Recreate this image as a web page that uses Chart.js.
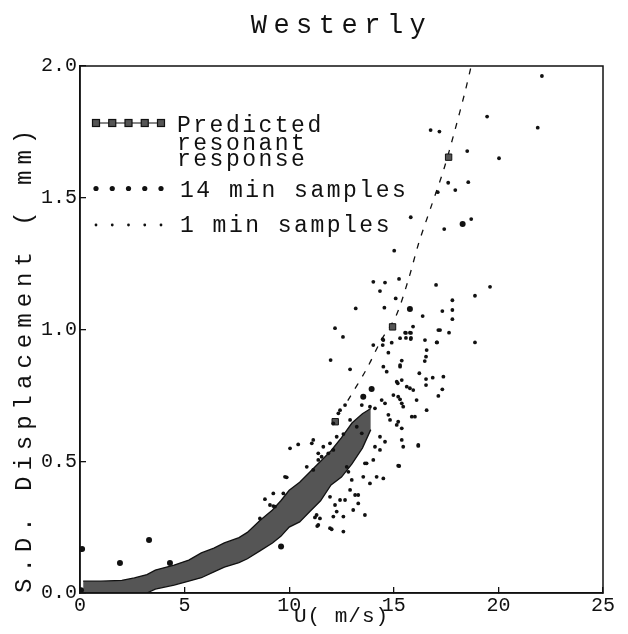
<!DOCTYPE html>
<html><head><meta charset="utf-8">
<script src="https://cdn.jsdelivr.net/npm/chart.js@4/dist/chart.umd.min.js"></script>
<style>html,body{margin:0;padding:0;background:#fff;}canvas{display:block;}</style>
</head><body>
<canvas id="c" width="628" height="634"></canvas>
<script>
// ---------- data ----------
const chartTitle = 'Westerly';
const xAxisTitle = 'U( m/s)';
const yAxisTitle = 'S.D. Displacement ( mm)';
const xTickValues = [0, 5, 10, 15, 20, 25];
const xTickLabels = ['0', '5', '10', '15', '20', '25'];
const yTickValues = [0, 0.5, 1.0, 1.5, 2.0];
const yTickLabels = ['0.0', '0.5', '1.0', '1.5', '2.0'];
const legendLabels = [['Predicted', 'resonant', 'response'], ['14 min samples'], ['1 min samples']];

// predicted resonant response: dense band of predicted squares (upper / lower edge)
const bandU     = [0.15, 1.0, 2.0, 2.6, 3.2, 3.6, 4.5, 5.2, 5.8, 6.4, 6.9, 7.6, 8.0, 8.6, 9.2, 9.6, 10.0, 10.5, 11.0, 11.5, 12.0, 12.5, 13.0, 13.5, 13.9];
const bandUpper = [0.045, 0.045, 0.048, 0.057, 0.07, 0.087, 0.106, 0.125, 0.152, 0.17, 0.19, 0.21, 0.23, 0.275, 0.315, 0.35, 0.39, 0.42, 0.46, 0.50, 0.54, 0.59, 0.645, 0.68, 0.70];
const bandLower = [0, 0, 0, 0, 0, 0.015, 0.03, 0.045, 0.058, 0.08, 0.098, 0.115, 0.13, 0.16, 0.19, 0.215, 0.25, 0.27, 0.31, 0.35, 0.41, 0.44, 0.49, 0.55, 0.62];
// predicted curve (dashed) and isolated predicted squares
const predLineU = [12.8, 13.7, 14.4, 15.1, 15.7, 16.2, 16.8, 17.4, 17.9, 18.4, 18.7];
const predLineV = [0.73, 0.85, 0.96, 1.05, 1.19, 1.33, 1.47, 1.61, 1.75, 1.90, 2.0];
const predSqU = [12.2, 14.94, 17.62];
const predSqV = [0.65, 1.01, 1.654];
// 14 min samples
const min14U = [0.05, 0.1, 1.91, 3.30, 4.30, 9.61, 13.54, 13.94, 15.77, 18.29];
const min14V = [0.01, 0.167, 0.114, 0.201, 0.114, 0.176, 0.745, 0.774, 1.078, 1.40];
// 1 min samples
const min1U = [15.02, 14.02, 14.58, 15.25, 14.34, 17.02, 19.60, 18.88, 17.80, 15.09, 13.18, 14.55, 16.38, 17.32, 17.80, 17.80, 12.19, 15.92, 15.58, 15.82, 15.82, 15.58, 15.30, 17.21, 17.64, 12.57, 16.49, 17.07, 18.88, 14.47, 14.90, 14.74, 16.57, 16.54, 16.48, 15.38, 11.98, 12.91, 15.30, 16.22, 16.86, 17.37, 16.54, 17.32, 17.13, 16.57, 16.17, 15.26, 14.50, 15.62, 15.93, 15.19, 15.30, 15.45, 16.01, 15.14,
  22.08, 19.46, 21.88, 16.76, 17.18, 18.51, 20.03, 17.60, 18.56, 17.10, 17.94, 15.81, 18.70, 17.41,
  14.02, 14.50, 14.47, 15.54, 15.77, 15.81, 17.13, 17.05, 14.50, 14.66, 15.30, 16.54, 15.77, 15.14, 15.38, 14.98, 15.21, 13.47, 13.86, 14.10, 14.42, 14.58, 15.38, 16.09, 15.86, 14.74, 14.82, 15.21, 15.38, 14.34, 14.58, 15.38, 15.45, 16.17, 15.21,
  12.35, 12.67, 10.04, 10.43, 11.15, 11.08, 9.88, 9.24, 8.84, 9.72, 9.24, 8.60, 11.31, 11.47, 11.39, 11.95, 12.59, 12.11, 12.59, 12.43, 12.67, 11.95, 13.15, 13.30, 13.06, 13.62, 13.54, 13.62, 12.75, 12.83, 11.15, 11.39, 11.55, 11.95, 12.11, 12.27, 12.91, 13.23, 13.47, 12.11, 9.80, 9.32, 9.08, 12.03, 11.23, 12.27, 12.19, 13.30, 12.91, 12.99, 13.86, 14.18, 13.70, 14.02, 14.10, 14.34, 11.63, 11.87, 10.84, 11.34, 12.43, 11.39, 12.59];
const min1V = [1.299, 1.181, 1.178, 1.192, 1.146, 1.169, 1.162, 1.128, 1.111, 1.118, 1.080, 1.083, 1.051, 1.070, 1.074, 1.039, 1.005, 1.011, 0.987, 0.987, 0.968, 0.968, 0.967, 0.998, 0.988, 0.972, 0.960, 0.951, 0.951, 0.963, 0.950, 0.912, 0.922, 0.897, 0.880, 0.882, 0.884, 0.849, 0.859, 0.834, 0.817, 0.821, 0.789, 0.773, 0.748, 0.694, 0.562, 0.482, 0.435, 0.783, 0.770, 0.796, 0.735, 0.707, 0.669, 0.638,
  1.962, 1.808, 1.766, 1.757, 1.751, 1.677, 1.650, 1.557, 1.559, 1.521, 1.529, 1.426, 1.419, 1.381,
  0.941, 0.960, 0.941, 0.988, 0.988, 0.964, 0.998, 0.951, 0.859, 0.840, 0.865, 0.812, 0.777, 0.802, 0.808, 0.751, 0.745, 0.713, 0.707, 0.701, 0.732, 0.720, 0.720, 0.732, 0.669, 0.676, 0.657, 0.650, 0.625, 0.593, 0.574, 0.581, 0.555, 0.558, 0.483,
  0.682, 0.713, 0.549, 0.564, 0.581, 0.568, 0.439, 0.378, 0.356, 0.378, 0.330, 0.283, 0.296, 0.283, 0.258, 0.246, 0.233, 0.290, 0.290, 0.353, 0.353, 0.365, 0.372, 0.340, 0.315, 0.296, 0.441, 0.492, 0.479, 0.460, 0.467, 0.530, 0.517, 0.568, 0.543, 0.593, 0.657, 0.631, 0.606, 0.644, 0.441, 0.328, 0.334, 0.242, 0.287, 0.309, 0.334, 0.372, 0.391, 0.429, 0.416, 0.441, 0.492, 0.505, 0.555, 0.543, 0.555, 0.530, 0.479, 0.254, 0.694, 0.505, 0.603];

// ---------- styling ----------
const FONT = '"Liberation Mono", "DejaVu Sans Mono", monospace';
const INK = '#111';
const GRAY = '#555';
const pts = (xs, ys) => xs.map((x, i) => ({x, y: ys[i]}));

function wrapSpacing(obj, fn, sp) {
  if (!obj || obj['__sp_' + fn]) return;
  const orig = obj[fn];
  obj[fn] = function (...args) {
    const c = this.ctx;
    c.save();
    c.letterSpacing = sp;
    const r = orig.apply(this, args);
    c.restore();
    return r;
  };
  obj['__sp_' + fn] = true;
}

const spacingPlugin = {
  id: 'spacing',
  beforeDraw(chart) {
    wrapSpacing(chart.titleBlock, 'draw', '6.5px');
    wrapSpacing(chart.scales.x, 'drawTitle', '1px');
    wrapSpacing(chart.scales.y, 'drawTitle', '6px');
  }
};

const framePlugin = {
  id: 'frame',
  afterDraw(chart) {
    const {ctx, chartArea: a} = chart;
    ctx.save();
    ctx.strokeStyle = INK;
    ctx.lineWidth = 1.5;
    ctx.strokeRect(a.left, a.top, a.right - a.left, a.bottom - a.top);
    ctx.restore();
  }
};

const legendPlugin = {
  id: 'insideLegend',
  afterDraw(chart) {
    const {ctx, chartArea: a} = chart;
    const x0 = a.left + 16, x1 = a.left + 81, n = 5;
    const mx = i => x0 + (x1 - x0) * i / (n - 1);
    ctx.save();
    // row 1: predicted (line + squares)
    let y = a.top + 57;
    ctx.strokeStyle = INK; ctx.lineWidth = 1.2;
    ctx.beginPath(); ctx.moveTo(x0, y); ctx.lineTo(x1, y); ctx.stroke();
    for (let i = 0; i < n; i++) {
      ctx.fillStyle = GRAY; ctx.fillRect(mx(i) - 3.5, y - 3.5, 7, 7);
      ctx.strokeRect(mx(i) - 3.5, y - 3.5, 7, 7);
    }
    // row 2: 14 min
    y = a.top + 122.5;
    ctx.fillStyle = INK;
    for (let i = 0; i < n; i++) { ctx.beginPath(); ctx.arc(mx(i), y, 2.6, 0, Math.PI * 2); ctx.fill(); }
    // row 3: 1 min
    y = a.top + 159;
    for (let i = 0; i < n; i++) { ctx.beginPath(); ctx.arc(mx(i), y, 1.4, 0, Math.PI * 2); ctx.fill(); }
    // texts
    ctx.letterSpacing = '2.5px';
    ctx.font = '23px ' + FONT;
    ctx.fillStyle = INK;
    ctx.textBaseline = 'alphabetic';
    ctx.textAlign = 'left';
    const tx = a.left + 97;
    const base = [[65.5, 83.5, 100], [130.7], [165.7]];
    legendLabels.forEach((lines, r) => lines.forEach((t, k) => ctx.fillText(t, tx + (r ? 3 : 0), a.top + base[r][k])));
    ctx.restore();
  }
};

new Chart(document.getElementById('c'), {
  type: 'scatter',
  data: {
    datasets: [
      { type: 'line', label: 'band upper', data: pts(bandU, bandUpper), showLine: true,
        borderColor: INK, borderWidth: 1.3, backgroundColor: GRAY, fill: '+1', pointRadius: 0, order: 5 },
      { type: 'line', label: 'band lower', data: pts(bandU, bandLower), showLine: true,
        borderColor: INK, borderWidth: 1.3, fill: false, pointRadius: 0, order: 4 },
      { type: 'line', label: 'Predicted resonant response', data: pts(predLineU, predLineV), showLine: true,
        borderColor: INK, borderWidth: 1.3, borderDash: [6, 8], fill: false, pointRadius: 0, tension: 0.3, order: 3 },
      { label: 'predicted squares', data: pts(predSqU, predSqV), pointStyle: 'rect', pointRadius: 4.5,
        backgroundColor: GRAY, borderColor: INK, borderWidth: 1, order: 2 },
      { label: '14 min samples', data: pts(min14U, min14V), pointRadius: 3, backgroundColor: INK, borderWidth: 0, order: 1 },
      { label: '1 min samples', data: pts(min1U, min1V), pointRadius: 1.9, backgroundColor: INK, borderWidth: 0, order: 0 }
    ]
  },
  options: {
    responsive: false,
    animation: false,
    events: [],
    layout: { padding: { left: 0, right: 25, top: 0, bottom: 0 } },
    plugins: {
      legend: { display: false },
      tooltip: { enabled: false },
      title: { display: true, text: chartTitle, fullSize: false, color: INK,
        font: { family: FONT, size: 27, weight: 'normal', lineHeight: 1.2 },
        padding: { top: 9.5, bottom: 24.1 } }
    },
    scales: {
      x: {
        type: 'linear', position: 'bottom', min: 0, max: 25,
        afterBuildTicks: s => { s.ticks = xTickValues.map(v => ({value: v})); },
        afterFit: s => { s.height = 41; },
        ticks: { callback: v => xTickLabels[xTickValues.indexOf(v)], color: INK, padding: 6.6, maxRotation: 0,
          font: { family: FONT, size: 20 } },
        grid: { drawOnChartArea: false, drawTicks: true, tickLength: -6, color: INK, lineWidth: 1.3 },
        border: { display: true, color: INK, width: 1.5 },
        title: { display: true, text: xAxisTitle, color: INK, padding: { top: 0, bottom: 5 },
          font: { family: FONT, size: 21, lineHeight: 1.2 } }
      },
      y: {
        type: 'linear', position: 'left', min: 0, max: 2,
        afterBuildTicks: s => { s.ticks = yTickValues.map(v => ({value: v})); },
        afterFit: s => { s.width = 80; },
        ticks: { callback: v => yTickLabels[yTickValues.indexOf(v)], color: INK, padding: 9,
          font: { family: FONT, size: 20 } },
        grid: { drawOnChartArea: false, drawTicks: true, tickLength: -6, color: INK, lineWidth: 1.3 },
        border: { display: true, color: INK, width: 1.5 },
        title: { display: true, text: yAxisTitle, align: 'start', color: INK, padding: { top: 10.3, bottom: 0 },
          font: { family: FONT, size: 24, lineHeight: 1.2 } }
      }
    }
  },
  plugins: [spacingPlugin, framePlugin, legendPlugin]
});
</script>
</body></html>
